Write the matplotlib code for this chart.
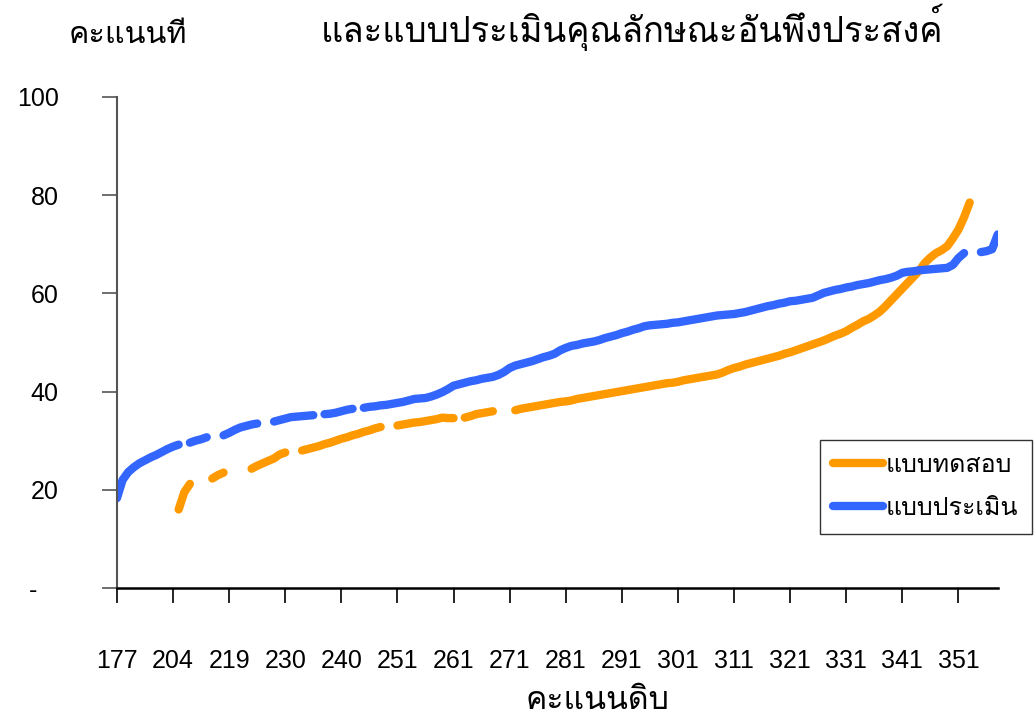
import numpy as np
import matplotlib
matplotlib.use("Agg")
import matplotlib.pyplot as plt
from matplotlib import font_manager
from matplotlib.ft2font import FT2Font

# ป้ายแกน x (ทุก 10 คะแนน)
x_labels = ["177", "204", "219", "230", "240", "251", "261", "271",
            "281", "291", "301", "311", "321", "331", "341", "351"]

# คะแนนที แบบทดสอบ (None = ไม่มีข้อมูล)
t_test = [
    None, None, None, None, None, None, None, None, None, None,
    None, 16.0, 19.5, 21.2, None, None, None, 22.3, 23.0, 23.5,
    None, None, None, None, 24.3, 24.9, 25.4, 25.9, 26.4, 27.2,
    27.6, None, None, 28.0, 28.3, 28.6, 28.9, 29.3, 29.6, 30.0,
    30.4, 30.7, 31.1, 31.4, 31.8, 32.1, 32.5, 32.8, None, None,
    33.1, 33.3, 33.5, 33.7, 33.8, 34.0, 34.2, 34.4, 34.7, 34.6,
    34.6, None, 34.7, 35.0, 35.4, 35.6, 35.8, 36.0, None, None,
    None, 36.2, 36.5, 36.7, 36.9, 37.1, 37.3, 37.5, 37.7, 37.9,
    38.0, 38.2, 38.5, 38.7, 38.9, 39.1, 39.3, 39.5, 39.7, 39.9,
    40.1, 40.3, 40.5, 40.7, 40.9, 41.1, 41.3, 41.5, 41.7, 41.8,
    42.0, 42.3, 42.5, 42.7, 42.9, 43.1, 43.3, 43.5, 43.9, 44.4,
    44.8, 45.1, 45.5, 45.8, 46.1, 46.4, 46.7, 47.0, 47.3, 47.7,
    48.0, 48.4, 48.8, 49.2, 49.6, 50.0, 50.4, 50.9, 51.4, 51.8,
    52.3, 53.0, 53.6, 54.3, 54.8, 55.5, 56.3, 57.4, 58.6, 59.8,
    61.0, 62.2, 63.4, 64.6, 66.2, 67.3, 68.2, 68.8, 69.6, 71.2,
    73.0, 75.5, 78.5, None, None, None, None, None,
]

# คะแนนที แบบประเมิน
t_eval = [
    18.3, 22.0, 23.6, 24.6, 25.4, 26.0, 26.6, 27.1, 27.7, 28.3,
    28.8, 29.2, None, 29.6, 30.0, 30.3, 30.7, None, None, 31.1,
    31.6, 32.2, 32.7, 33.0, 33.3, 33.5, None, None, 33.9, 34.2,
    34.5, 34.8, 34.9, 35.0, 35.1, 35.2, None, 35.4, 35.5, 35.7,
    36.0, 36.3, 36.5, None, 36.7, 36.9, 37.0, 37.2, 37.3, 37.5,
    37.7, 37.9, 38.2, 38.5, 38.6, 38.7, 39.0, 39.4, 39.9, 40.5,
    41.2, 41.5, 41.8, 42.1, 42.3, 42.6, 42.8, 43.0, 43.4, 44.0,
    44.8, 45.3, 45.6, 45.9, 46.2, 46.6, 47.0, 47.3, 47.7, 48.4,
    48.9, 49.3, 49.5, 49.8, 50.0, 50.2, 50.5, 50.9, 51.2, 51.5,
    51.9, 52.2, 52.6, 52.9, 53.3, 53.5, 53.6, 53.7, 53.8, 54.0,
    54.1, 54.3, 54.5, 54.7, 54.9, 55.1, 55.3, 55.5, 55.6, 55.7,
    55.8, 56.0, 56.2, 56.5, 56.8, 57.1, 57.4, 57.6, 57.9, 58.1,
    58.4, 58.5, 58.7, 58.9, 59.1, 59.6, 60.1, 60.4, 60.7, 60.9,
    61.2, 61.4, 61.7, 61.9, 62.1, 62.4, 62.7, 62.9, 63.2, 63.6,
    64.2, 64.4, 64.5, 64.7, 64.8, 64.9, 65.0, 65.1, 65.2, 65.8,
    67.2, 68.2, None, None, 68.4, 68.6, 69.0, 72.0,
]

# หาฟอนต์ที่มีอักษรไทย
thai_font = None
for f in font_manager.fontManager.ttflist:
    try:
        if ord("ก") in FT2Font(f.fname).get_charmap():
            thai_font = f.name
            break
    except Exception:
        pass
thai_family = [thai_font, "DejaVu Sans"] if thai_font else ["DejaVu Sans"]
num_family = ["Liberation Sans", "DejaVu Sans"]

y_test = np.array([np.nan if v is None else v for v in t_test], dtype=float)
y_eval = np.array([np.nan if v is None else v for v in t_eval], dtype=float)
x = np.arange(len(y_eval))

fig = plt.figure(figsize=(10.35, 7.18), dpi=100)
ax = fig.add_axes([0.113, 0.181, 0.851, 0.684])

ax.plot(x, y_test, color="#FF9900", lw=6, solid_capstyle="round",
        solid_joinstyle="round", label="แบบทดสอบ")
ax.plot(x, y_eval, color="#3366FF", lw=6, solid_capstyle="round",
        solid_joinstyle="round", label="แบบประเมิน")

ax.set_xlim(0, len(x) - 1)
ax.set_ylim(0, 100)
ax.set_xticks(np.arange(0, 10 * len(x_labels), 10))
ax.set_xticklabels(x_labels, family=num_family, fontsize=18)
ax.set_yticks([0, 20, 40, 60, 80, 100])
ax.set_yticklabels(["-   ", "20", "40", "60", "80", "100"], family=num_family, fontsize=18)
ax.tick_params(axis="x", direction="out", length=11, width=1.2, pad=33, colors="black")
ax.tick_params(axis="y", direction="out", length=11, width=1.2, pad=31, colors="black")
ax.tick_params(axis="y", color="#555555")

for s in ["top", "right"]:
    ax.spines[s].set_visible(False)
ax.spines["bottom"].set_linewidth(1.8)
ax.spines["bottom"].set_color("black")
ax.spines["left"].set_linewidth(1.5)
ax.spines["left"].set_color("#555555")

# ข้อความ
fig.text(0.611, 0.942, "และแบบประเมินคุณลักษณะอันพึงประสงค์", family=thai_family,
         fontsize=25, ha="center", va="baseline")
fig.text(0.124, 0.94, "คะแนนที", family=thai_family, fontsize=22, ha="center", va="baseline")
fig.text(0.577, 0.012, "คะแนนดิบ", family=thai_family, fontsize=23, ha="center", va="baseline")

leg = ax.legend(loc="upper left", bbox_to_anchor=(0.792, 0.387),
                bbox_transform=fig.transFigure, borderaxespad=0,
                prop={"family": thai_family, "size": 18},
                frameon=True, fancybox=False, edgecolor="black", handlelength=2.0,
                handletextpad=0.1, labelspacing=0.8, borderpad=0.55)
leg.get_frame().set_linewidth(1.0)

fig.savefig("out.png", dpi=100)
